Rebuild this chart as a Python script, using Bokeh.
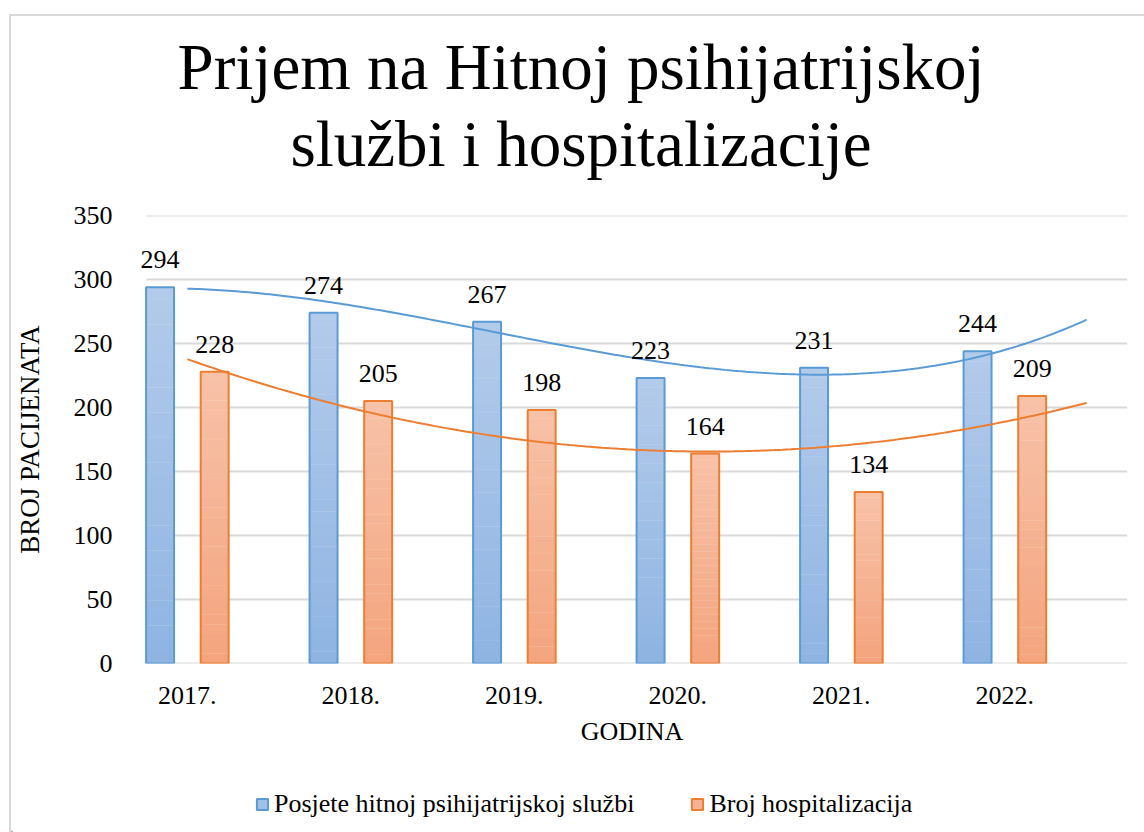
import numpy as np
from bokeh.plotting import figure
from bokeh.layouts import column
from bokeh.models import (Range1d, FixedTicker, Title, Legend, LegendItem,
                          ColumnDataSource, LabelSet)
from bokeh.core.properties import value
from bokeh.embed import file_html
from bokeh.resources import INLINE

# ---------------- data ----------------
years = ["2017.", "2018.", "2019.", "2020.", "2021.", "2022."]
posjete = [294, 274, 267, 223, 231, 244]
hospitalizacije = [228, 205, 198, 164, 134, 209]
series_names = ["Posjete hitnoj psihijatrijskoj službi", "Broj hospitalizacija"]
y_ticks = [0, 50, 100, 150, 200, 250, 300, 350]
title_lines = ["Prijem na Hitnoj psihijatrijskoj", "službi i hospitalizacije"]
x_title = "GODINA"
y_title = "BROJ PACIJENATA"

# ---------------- style ----------------
FONT = "Liberation Serif"
BLUE = "#5b9bd5"
ORANGE = "#ed7d31"
BLUE_GRAD = ("#8fb4e2", "#b3cbea")     # bottom, top
ORANGE_GRAD = ("#f4a47e", "#f7c2a9")
GRID = "#d9d9d9"
BAR_W = 0.171
OFFSET = 0.167
N_SLICES = 30
X_LO, X_HI = -0.25, 5.75          # extent of the gridlines (plot area)
X_PAD = 10 / 163.67               # extra room so data labels are not clipped
W = 1133


def blank_fig(h, **kw):
    f = figure(width=W, height=h, x_range=Range1d(0, W), y_range=Range1d(0, h),
               output_backend="svg", toolbar_location=None, title_location=None,
               x_axis_type=None, y_axis_type=None, frame_align=False,
               min_border=0, **kw)
    f.outline_line_color = None
    f.xgrid.grid_line_color = None
    f.ygrid.grid_line_color = None
    f.background_fill_color = "white"
    f.border_fill_color = "white"
    return f


# ---------------- title ----------------
tf = blank_fig(184, min_border_left=6, min_border_right=0,
               min_border_top=166, min_border_bottom=0)
# later-added titles sit further from the frame
tf.add_layout(Title(text=title_lines[1], align="center", standoff=6,
                    text_font=FONT, text_font_size="65px",
                    text_font_style="normal", text_color="black"), "above")
tf.add_layout(Title(text=title_lines[0], align="center", standoff=0,
                    text_font=FONT, text_font_size="65px",
                    text_font_style="normal", text_color="black"), "above")

# ---------------- main chart ----------------
xs = np.arange(len(years))

p = figure(width=W, height=570,
           x_range=Range1d(X_LO - X_PAD, X_HI), y_range=Range1d(0, 350),
           output_backend="svg", toolbar_location=None, title_location=None,
           frame_align=False,
           min_border_left=124, min_border_right=17,
           min_border_top=15, min_border_bottom=107)
p.outline_line_color = None
p.background_fill_color = "white"
p.border_fill_color = "white"

# horizontal gridlines (plot area only)
p.segment(x0=[X_LO] * len(y_ticks), x1=[X_HI] * len(y_ticks),
          y0=y_ticks, y1=y_ticks, line_color=GRID, line_width=2)


def hex2rgb(h):
    h = h.lstrip("#")
    return np.array([int(h[i:i + 2], 16) for i in (0, 2, 4)], dtype=float)


def rgb2hex(c):
    return "#%02x%02x%02x" % tuple(int(round(v)) for v in c)


def draw_series(vals, centers, grad, line_color):
    vals = np.asarray(vals, dtype=float)
    c0, c1 = hex2rgb(grad[0]), hex2rgb(grad[1])
    mid = rgb2hex((c0 + c1) / 2)
    lefts, rights, bots, tops, cols = [], [], [], [], []
    for k in range(N_SLICES):
        f0, f1 = k / N_SLICES, (k + 1) / N_SLICES
        col = rgb2hex(c0 + (c1 - c0) * (k + 0.5) / N_SLICES)
        for cx, v in zip(centers, vals):
            lefts.append(cx - BAR_W / 2)
            rights.append(cx + BAR_W / 2)
            bots.append(v * f0)
            tops.append(v * f1 + (0.3 if k < N_SLICES - 1 else 0))
            cols.append(col)
    p.quad(left=lefts, right=rights, bottom=bots, top=tops,
           fill_color=cols, line_color=None)
    p.vbar(x=centers, top=vals, bottom=0, width=BAR_W,
           fill_color=None, line_color=line_color, line_width=2)
    src = ColumnDataSource(dict(x=centers, y=vals, t=[str(int(v)) for v in vals]))
    p.add_layout(LabelSet(x="x", y="y", text="t", source=src,
                          text_align="center", text_baseline="alphabetic",
                          y_offset=19, text_font=value(FONT),
                          text_font_size="26px", text_color="black"))
    return mid


mid1 = draw_series(posjete, xs - OFFSET, BLUE_GRAD, BLUE)
mid2 = draw_series(hospitalizacije, xs + OFFSET, ORANGE_GRAD, ORANGE)

# polynomial trend lines (computed from the data, forecast forward 0.5)
xt = np.linspace(0, 5.5, 220)
cb = np.polyfit(xs, posjete, 3)
co = np.polyfit(xs, hospitalizacije, 2)
p.line(xt, np.polyval(cb, xt), line_color=BLUE, line_width=2)
p.line(xt, np.polyval(co, xt), line_color=ORANGE, line_width=2)

# axes
p.xaxis.ticker = FixedTicker(ticks=list(xs))
p.xaxis.major_label_overrides = {int(i): y for i, y in zip(xs, years)}
p.yaxis.ticker = FixedTicker(ticks=y_ticks)
p.xgrid.grid_line_color = None
p.ygrid.grid_line_color = None

for ax in (p.xaxis, p.yaxis):
    ax.axis_line_color = None
    ax.major_tick_line_color = None
    ax.minor_tick_line_color = None
    ax.major_tick_out = 0
    ax.major_tick_in = 0
    ax.minor_tick_out = 0
    ax.major_label_text_font = FONT
    ax.major_label_text_font_size = "26px"
    ax.major_label_text_color = "black"
    ax.axis_label_text_font = FONT
    ax.axis_label_text_font_size = "26px"
    ax.axis_label_text_font_style = "normal"
    ax.axis_label_text_color = "black"

p.yaxis.axis_label_text_font_size = "27px"
p.yaxis.major_label_standoff = 24
p.xaxis.major_label_standoff = 23
p.xaxis.axis_label = x_title
p.yaxis.axis_label = y_title
p.xaxis.axis_label_standoff = 10
p.yaxis.axis_label_standoff = 26

# ---------------- legend ----------------
LH = 62
lf = blank_fig(LH)
g1 = lf.vbar(x=[-100], top=[1], width=1, fill_color=mid1, line_color=BLUE, line_width=2)
g2 = lf.vbar(x=[-100], top=[1], width=1, fill_color=mid2, line_color=ORANGE, line_width=2)
legend = Legend(items=[LegendItem(label=series_names[0], renderers=[g1]),
                       LegendItem(label=series_names[1], renderers=[g2])],
                orientation="horizontal", location=(244, 13),
                margin=0, padding=0, spacing=56, label_standoff=5,
                glyph_width=14, glyph_height=14, label_height=30,
                label_text_font=FONT, label_text_font_size="26px",
                label_text_color="black", border_line_color=None,
                background_fill_alpha=0)
lf.add_layout(legend, "center")

layout = column(tf, p, lf, spacing=0,
                styles={"margin-left": "9px", "margin-top": "14px",
                        "border-left": "2px solid #d9d9d9",
                        "border-top": "2px solid #d9d9d9"})

open("out.html", "w").write(file_html(layout, INLINE))
